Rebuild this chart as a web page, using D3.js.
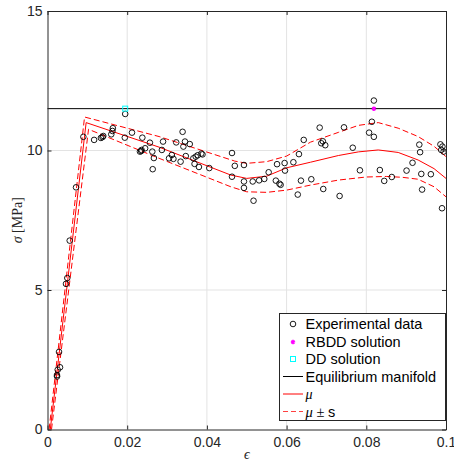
<!DOCTYPE html>
<html>
<head>
<meta charset="utf-8">
<script src="https://cdn.jsdelivr.net/npm/d3@7"></script>
<style>
  body { margin: 0; background: #fff; }
  text { font-family: "Liberation Sans", Arial, sans-serif; }
</style>
</head>
<body>
<svg width="454" height="467"></svg>
<script>
var expEps = [0.00238,0.00256,0.0024,0.00314,0.00289,0.00464,0.00497,0.00557,0.00716,
  0.0090,0.0117,0.0134,0.0138,0.0140,0.0160,0.0164,0.0163,0.0195,0.0194,0.0212,0.0232,
  0.0238,0.0235,0.0236,0.0245,0.0257,0.0263,0.0267,0.0264,0.0287,0.0290,0.0305,0.0312,
  0.0316,0.0323,0.0334,0.0339,0.0345,0.0341,0.0347,0.0357,0.0366,0.0372,0.0377,0.0386,
  0.0389,0.0369,0.0380,0.0406,0.0463,0.0470,0.0463,
  0.0493,0.0493,0.0493,0.0517,0.0515,0.0531,0.0544,0.0555,0.0573,0.0582,0.0585,0.0576,
  0.0595,0.0596,0.0617,0.0631,0.0636,0.0628,0.0643,0.0662,0.0683,0.0687,0.0691,0.0697,
  0.0692,0.0733,
  0.0744,0.0766,0.0784,0.0819,0.0814,0.0807,0.0819,0.0834,0.0845,0.0864,0.0901,0.0916,
  0.0933,0.0935,0.0938,0.0962,0.0940,0.0986,0.0991,0.0988,0.0994,0.0990];
var expSig = [1.95,2.14,1.90,2.23,2.78,5.22,5.43,6.77,8.68,
  10.49,10.38,10.45,10.48,10.52,10.58,10.80,10.70,11.31,10.46,10.64,9.96,
  10.46,9.98,10.02,10.08,10.28,9.96,9.73,9.33,10.02,10.32,9.72,9.84,
  9.70,10.29,9.60,10.67,10.32,10.14,9.80,10.23,9.72,9.78,9.83,9.89,
  9.86,9.52,9.41,9.37,9.91,9.45,9.06,
  9.48,8.89,8.66,8.20,8.89,8.93,8.98,9.22,8.92,8.81,8.77,9.51,
  9.55,9.28,9.58,9.87,8.92,8.42,10.38,8.97,10.82,10.26,10.33,10.19,
  8.62,8.37,
  10.83,10.10,9.29,11.79,11.03,10.64,10.49,9.30,8.91,9.05,9.28,9.56,
  10.21,9.94,9.16,9.15,8.60,10.22,10.14,10.02,9.96,7.93];

// model curves
var muEps = [0.0007,0.0097,0.028,0.046,0.050,0.055,0.060,0.066,0.073,0.078,0.083,0.088,0.093,0.097,0.1];
var muSig = [0,11.0,10.12,9.12,9.0,9.08,9.38,9.58,9.82,9.95,10.02,9.93,9.66,9.35,9.0];
var upEps = [0.0004,0.0093,0.028,0.047,0.050,0.055,0.060,0.066,0.073,0.078,0.083,0.088,0.093,0.097,0.1];
var upSig = [0,11.2,10.5,9.62,9.54,9.6,9.8,10.3,10.65,10.9,11.0,10.8,10.5,10.15,9.78];
var loEps = [0.0010,0.0103,0.028,0.046,0.050,0.055,0.060,0.066,0.073,0.080,0.085,0.089,0.093,0.097,0.1];
var loSig = [0,10.76,9.72,8.70,8.52,8.5,8.58,8.76,8.94,9.05,9.07,9.04,8.97,8.7,8.34];

var equilibrium = 11.5;
var rbdd = [0.0819, 11.5];
var dd = [0.0195, 11.5];

var xTicks = [0, 0.02, 0.04, 0.06, 0.08, 0.1];
var xTickLabels = ["0", "0.02", "0.04", "0.06", "0.08", "0.1"];
var yTicks = [0, 5, 10, 15];

var svg = d3.select("svg");
var axisColor = "#262626";

var x = d3.scaleLinear().domain([0, 0.1]).range([47.5, 446]);
var y = d3.scaleLinear().domain([0, 15]).range([429.5, 11]);

// grid
var grid = svg.append("g").attr("stroke", "#e3e3e3").attr("stroke-width", 1);
xTicks.slice(1, -1).forEach(function(t) {
  grid.append("line").attr("x1", x(t)).attr("x2", x(t)).attr("y1", y(0)).attr("y2", y(15));
});
yTicks.slice(1, -1).forEach(function(t) {
  grid.append("line").attr("x1", x(0)).attr("x2", x(0.1)).attr("y1", y(t)).attr("y2", y(t));
});

// curves
var zip = function(a, b) { return a.map(function(v, i) { return [v, b[i]]; }); };
var line = d3.line().x(d => x(d[0])).y(d => y(d[1]));

svg.append("path").datum(zip(upEps, upSig)).attr("d", line)
  .attr("fill", "none").attr("stroke", "red").attr("stroke-width", 1).attr("stroke-dasharray", "6,3");
svg.append("path").datum(zip(loEps, loSig)).attr("d", line)
  .attr("fill", "none").attr("stroke", "red").attr("stroke-width", 1).attr("stroke-dasharray", "6,3");
svg.append("path").datum(zip(muEps, muSig)).attr("d", line)
  .attr("fill", "none").attr("stroke", "red").attr("stroke-width", 1);

// equilibrium manifold
svg.append("line").attr("x1", x(0)).attr("x2", x(0.1))
  .attr("y1", y(equilibrium)).attr("y2", y(equilibrium))
  .attr("stroke", "#000").attr("stroke-width", 1);

// experimental points
svg.append("g").selectAll("circle").data(zip(expEps, expSig)).enter().append("circle")
  .attr("cx", d => x(d[0])).attr("cy", d => y(d[1])).attr("r", 2.8)
  .attr("fill", "none").attr("stroke", "#000").attr("stroke-width", 0.9);

// solutions
var star = d3.symbol().type(d3.symbolAsterisk).size(14);
svg.append("path").attr("d", star).attr("transform", "translate(" + x(rbdd[0]) + "," + y(rbdd[1]) + ")")
  .attr("fill", "none").attr("stroke", "#ff00ff").attr("stroke-width", 1.5);
svg.append("rect").attr("x", x(dd[0]) - 2.5).attr("y", y(dd[1]) - 2.5).attr("width", 5).attr("height", 5)
  .attr("fill", "none").attr("stroke", "#00ffff").attr("stroke-width", 1);

// axes
function styleAxis(g) {
  g.selectAll("path, line").attr("stroke", axisColor);
  g.selectAll("text").attr("fill", axisColor).style("font-size", "14px")
    .style("font-family", "'Liberation Sans', Arial, sans-serif");
}
svg.append("g").attr("transform", "translate(0," + y(0) + ")")
  .call(d3.axisBottom(x).tickValues(xTicks).tickFormat((d, i) => xTickLabels[i])
    .tickSizeInner(-4).tickSizeOuter(0).tickPadding(8))
  .call(styleAxis);
svg.append("g").attr("transform", "translate(0," + y(15) + ")")
  .call(d3.axisTop(x).tickValues(xTicks).tickFormat("").tickSizeInner(-4).tickSizeOuter(0))
  .call(styleAxis);
svg.append("g").attr("transform", "translate(" + x(0) + ",0)")
  .call(d3.axisLeft(y).tickValues(yTicks).tickSizeInner(-4).tickSizeOuter(0).tickPadding(5))
  .call(styleAxis);
svg.append("g").attr("transform", "translate(" + x(0.1) + ",0)")
  .call(d3.axisRight(y).tickValues(yTicks).tickFormat("").tickSizeInner(-4).tickSizeOuter(0))
  .call(styleAxis);

// axis labels
svg.append("text").attr("x", (x(0) + x(0.1)) / 2).attr("y", 459)
  .attr("text-anchor", "middle").attr("fill", axisColor)
  .style("font-family", "'Liberation Serif', 'Times New Roman', serif").style("font-style", "italic")
  .style("font-size", "14px").text("\u03f5");
var yl = svg.append("text").attr("transform", "translate(22," + (y(0) + y(15)) / 2 + ") rotate(-90)")
  .attr("text-anchor", "middle").attr("fill", axisColor)
  .style("font-family", "'Liberation Serif', 'Times New Roman', serif").style("font-size", "14px");
yl.append("tspan").style("font-style", "italic").text("\u03c3");
yl.append("tspan").text(" [MPa]");

// legend
var lg = svg.append("g");
lg.append("rect").attr("x", 279.5).attr("y", 313.5).attr("width", 166).attr("height", 107)
  .attr("fill", "#fff").attr("stroke", axisColor).attr("stroke-width", 1);
var rows = [324, 342, 359, 376.5, 394, 411.5];
var sx = 293;
lg.append("circle").attr("cx", sx).attr("cy", rows[0]).attr("r", 2.8)
  .attr("fill", "none").attr("stroke", "#000").attr("stroke-width", 0.9);
lg.append("path").attr("d", star).attr("transform", "translate(" + sx + "," + rows[1] + ")")
  .attr("fill", "none").attr("stroke", "#ff00ff").attr("stroke-width", 1.5);
lg.append("rect").attr("x", sx - 2.5).attr("y", rows[2] - 2.5).attr("width", 5).attr("height", 5)
  .attr("fill", "none").attr("stroke", "#00ffff").attr("stroke-width", 1);
lg.append("line").attr("x1", 283).attr("x2", 303).attr("y1", rows[3]).attr("y2", rows[3])
  .attr("stroke", "#000").attr("stroke-width", 1);
lg.append("line").attr("x1", 283).attr("x2", 303).attr("y1", rows[4]).attr("y2", rows[4])
  .attr("stroke", "red").attr("stroke-width", 1);
lg.append("line").attr("x1", 283).attr("x2", 303).attr("y1", rows[5]).attr("y2", rows[5])
  .attr("stroke", "#ff4040").attr("stroke-width", 1).attr("stroke-dasharray", "5,3");

var labels = ["Experimental data", "RBDD solution", "DD solution", "Equilibrium manifold"];
labels.forEach(function(t, i) {
  lg.append("text").attr("x", 305.5).attr("y", rows[i]).attr("dy", "0.35em")
    .style("font-size", "14.5px").attr("fill", "#000").text(t);
});
lg.append("text").attr("x", 305.5).attr("y", rows[4]).attr("dy", "0.35em")
  .style("font-family", "'Liberation Serif', 'Times New Roman', serif").style("font-style", "italic")
  .style("font-size", "14px").text("\u03bc");
var ms = lg.append("text").attr("x", 305.5).attr("y", rows[5]).attr("dy", "0.35em").style("font-size", "14.5px");
ms.append("tspan").style("font-family", "'Liberation Serif', 'Times New Roman', serif").style("font-style", "italic").text("\u03bc");
ms.append("tspan").style("font-family", "'Liberation Serif', 'Times New Roman', serif").text(" \u00b1 ");
ms.append("tspan").text("s");
</script>
</body>
</html>
